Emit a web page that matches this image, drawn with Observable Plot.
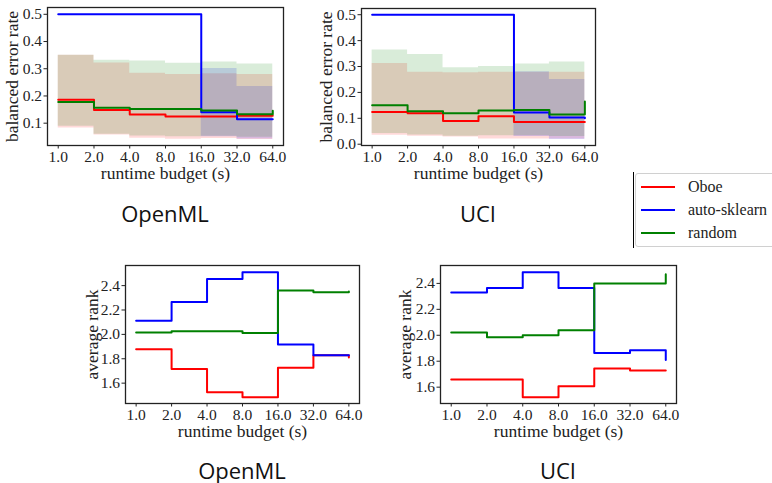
<!DOCTYPE html>
<html><head><meta charset="utf-8">
<script src="https://cdn.jsdelivr.net/npm/d3@7"></script>
<script src="https://cdn.jsdelivr.net/npm/@observablehq/plot@0.6"></script>
<style>
body{margin:0;background:#fff;}
#root{position:relative;width:772px;height:483px;overflow:hidden;background:#fff;}
.p{position:absolute;}
.title{position:absolute;width:200px;text-align:center;font-family:"Open Sans";font-size:22px;line-height:22px;color:#111;}
.legend{position:absolute;left:635px;top:173px;width:160px;height:72px;border:1px solid #d0d0d0;border-radius:3px;background:#fff;}
.vbar{position:absolute;left:633px;top:172px;width:1px;height:76px;background:#000;}
</style></head><body><div id="root"></div>
<script>
// ---- data ----
const budgets = [1, 2, 4, 8, 16, 32, 64];
const methods = ["Oboe", "auto-sklearn", "random"];
const colors = ["#ff0000", "#0000ff", "#008000"];

// OpenML balanced error rate (median) and band bounds
const openmlErrOboe   = [0.186, 0.148, 0.132, 0.125, 0.125, 0.127, 0.127];
const openmlErrAuto   = [0.5, 0.5, 0.5, 0.5, 0.140, 0.114, 0.114];
const openmlErrRandom = [0.178, 0.157, 0.152, 0.152, 0.147, 0.133, 0.146];
const openmlLoOboe    = [0.082, 0.057, 0.045, 0.041, 0.044, 0.040, 0.040];
const openmlHiOboe    = [0.350, 0.321, 0.283, 0.279, 0.282, 0.279, 0.279];
const openmlLoAuto    = [0.5, 0.5, 0.5, 0.5, 0.050, 0.042, 0.042];
const openmlHiAuto    = [0.5, 0.5, 0.5, 0.5, 0.301, 0.235, 0.235];
const openmlLoRandom  = [0.089, 0.059, 0.053, 0.050, 0.052, 0.048, 0.048];
const openmlHiRandom  = [0.350, 0.331, 0.328, 0.320, 0.325, 0.317, 0.350];

// UCI balanced error rate
const uciErrOboe   = [0.124, 0.120, 0.090, 0.108, 0.086, 0.086, 0.086];
const uciErrAuto   = [0.5, 0.5, 0.5, 0.5, 0.122, 0.103, 0.100];
const uciErrRandom = [0.150, 0.127, 0.120, 0.130, 0.132, 0.115, 0.165];
const uciLoOboe    = [0.035, 0.031, 0.028, 0.020, 0.020, 0.020, 0.020];
const uciHiOboe    = [0.312, 0.278, 0.276, 0.278, 0.278, 0.278, 0.278];
const uciLoAuto    = [0.5, 0.5, 0.5, 0.5, 0.030, 0.018, 0.018];
const uciHiAuto    = [0.5, 0.5, 0.5, 0.5, 0.280, 0.250, 0.250];
const uciLoRandom  = [0.041, 0.036, 0.031, 0.033, 0.033, 0.030, 0.030];
const uciHiRandom  = [0.364, 0.346, 0.295, 0.300, 0.310, 0.317, 0.415];

// average rank
const openmlRankOboe   = [1.878, 1.716, 1.526, 1.485, 1.727, 1.829, 1.810];
const openmlRankAuto   = [2.111, 2.266, 2.455, 2.510, 1.917, 1.829, 1.829];
const openmlRankRandom = [2.015, 2.026, 2.026, 2.012, 2.359, 2.345, 2.352];
const uciRankOboe   = [1.659, 1.659, 1.522, 1.607, 1.744, 1.729, 1.729];
const uciRankAuto   = [2.330, 2.364, 2.485, 2.364, 1.863, 1.884, 1.810];
const uciRankRandom = [2.021, 1.984, 2.000, 2.039, 2.400, 2.400, 2.470];

const errTicksOpenML = [0.1, 0.2, 0.3, 0.4, 0.5];
const errTicksUCI = [0.0, 0.1, 0.2, 0.3, 0.4, 0.5];
const rankTicks = [1.6, 1.8, 2.0, 2.2, 2.4];
const titles = ["OpenML", "UCI", "OpenML", "UCI"];

// ---- build tables ----
function rows(vals, los, his) {
  const out = [];
  methods.forEach((m, j) => {
    budgets.forEach((b, i) => {
      out.push({method: m, budget: b, value: vals[j][i],
        lo: los ? los[j][i] : null, hi: his ? his[j][i] : null});
    });
  });
  return out;
}
const openmlErr = rows([openmlErrOboe, openmlErrAuto, openmlErrRandom],
  [openmlLoOboe, openmlLoAuto, openmlLoRandom], [openmlHiOboe, openmlHiAuto, openmlHiRandom]);
const uciErr = rows([uciErrOboe, uciErrAuto, uciErrRandom],
  [uciLoOboe, uciLoAuto, uciLoRandom], [uciHiOboe, uciHiAuto, uciHiRandom]);
const openmlRank = rows([openmlRankOboe, openmlRankAuto, openmlRankRandom]);
const uciRank = rows([uciRankOboe, uciRankAuto, uciRankRandom]);

const root = document.getElementById("root");
const ML = 50, MR = 20, MT = 10, MB = 45;

function panel({data, bands, left, top, fw, fh, ydomain, yticks, ylabel, ylabelDx}) {
  const marks = [];
  if (bands) {
    marks.push(Plot.areaY(data, {x: "budget", y1: "lo", y2: "hi", z: "method", fill: "method",
      fillOpacity: 0.15, curve: "step-after"}));
  }
  marks.push(Plot.line(data, {x: "budget", y: "value", z: "method", stroke: "method",
    strokeWidth: 2, curve: "step-after"}));
  marks.push(Plot.frame({stroke: "#222", strokeWidth: 1.3}));
  marks.push(Plot.axisX({ticks: budgets, tickFormat: d => d.toFixed(1), tickSize: 3.5, tickPadding: 1.5,
    label: null, stroke: "#222", fill: "#222"}));
  marks.push(Plot.axisY({ticks: yticks, tickFormat: d => d.toFixed(1), tickSize: 3.5, tickPadding: 2,
    label: null, stroke: "#222", fill: "#222"}));
  marks.push(Plot.text(["runtime budget (s)"], {text: d => d, frameAnchor: "bottom", lineAnchor: "bottom",
    textAnchor: "middle", dy: 33, fontSize: 17.5, fill: "#222"}));
  marks.push(Plot.text([ylabel], {text: d => d, frameAnchor: "left", rotate: -90, dx: ylabelDx,
    textAnchor: "middle", lineAnchor: "middle", fontSize: 17.5, fill: "#222"}));
  const svg = Plot.plot({
    width: ML + fw + MR, height: MT + fh + MB,
    marginLeft: ML, marginRight: MR, marginTop: MT, marginBottom: MB,
    style: {fontFamily: "'Liberation Serif', serif", fontSize: "15.5px", background: "transparent", overflow: "visible", color: "#222"},
    x: {type: "log", base: 2, domain: [Math.pow(2, -0.3), Math.pow(2, 6.3)]},
    y: {domain: ydomain},
    color: {domain: methods, range: colors},
    marks
  });
  const div = document.createElement("div");
  div.className = "p";
  div.style.left = (left - ML) + "px";
  div.style.top = (top - MT) + "px";
  div.appendChild(svg);
  root.appendChild(div);
}

panel({data: openmlErr, bands: true, left: 47, top: 7, fw: 236, fh: 138,
  ydomain: [0.018, 0.525], yticks: errTicksOpenML, ylabel: "balanced error rate", ylabelDx: -35});
panel({data: uciErr, bands: true, left: 361, top: 8, fw: 234, fh: 137,
  ydomain: [-0.005, 0.524], yticks: errTicksUCI, ylabel: "balanced error rate", ylabelDx: -35});
panel({data: openmlRank, bands: false, left: 125, top: 265, fw: 234, fh: 138,
  ydomain: [1.433, 2.565], yticks: rankTicks, ylabel: "average rank", ylabelDx: -33});
panel({data: uciRank, bands: false, left: 440, top: 265, fw: 236, fh: 138,
  ydomain: [1.474, 2.538], yticks: rankTicks, ylabel: "average rank", ylabelDx: -35});

// titles below each panel
const titlePos = [[165, 221], [478, 221], [242, 478], [558, 478]];
titles.forEach((t, i) => {
  const d = document.createElement("div");
  d.className = "title";
  d.textContent = t;
  d.style.left = (titlePos[i][0] - 100) + "px";
  d.style.top = (titlePos[i][1] - 19.5) + "px";
  root.appendChild(d);
});

// legend
const vbar = document.createElement("div");
vbar.className = "vbar";
root.appendChild(vbar);
const leg = document.createElement("div");
leg.className = "legend";
const lsvg = d3.create("svg").attr("width", 160).attr("height", 72)
  .style("font-family", "'Liberation Serif', serif").style("font-size", "16px");
methods.forEach((m, i) => {
  const y = 13 + i * 23;
  lsvg.append("line").attr("x1", 5).attr("x2", 39).attr("y1", y).attr("y2", y)
    .attr("stroke", colors[i]).attr("stroke-width", 2);
  lsvg.append("text").attr("x", 52).attr("y", y + 5).attr("fill", "#222").text(m);
});
leg.appendChild(lsvg.node());
root.appendChild(leg);
</script></body></html>
